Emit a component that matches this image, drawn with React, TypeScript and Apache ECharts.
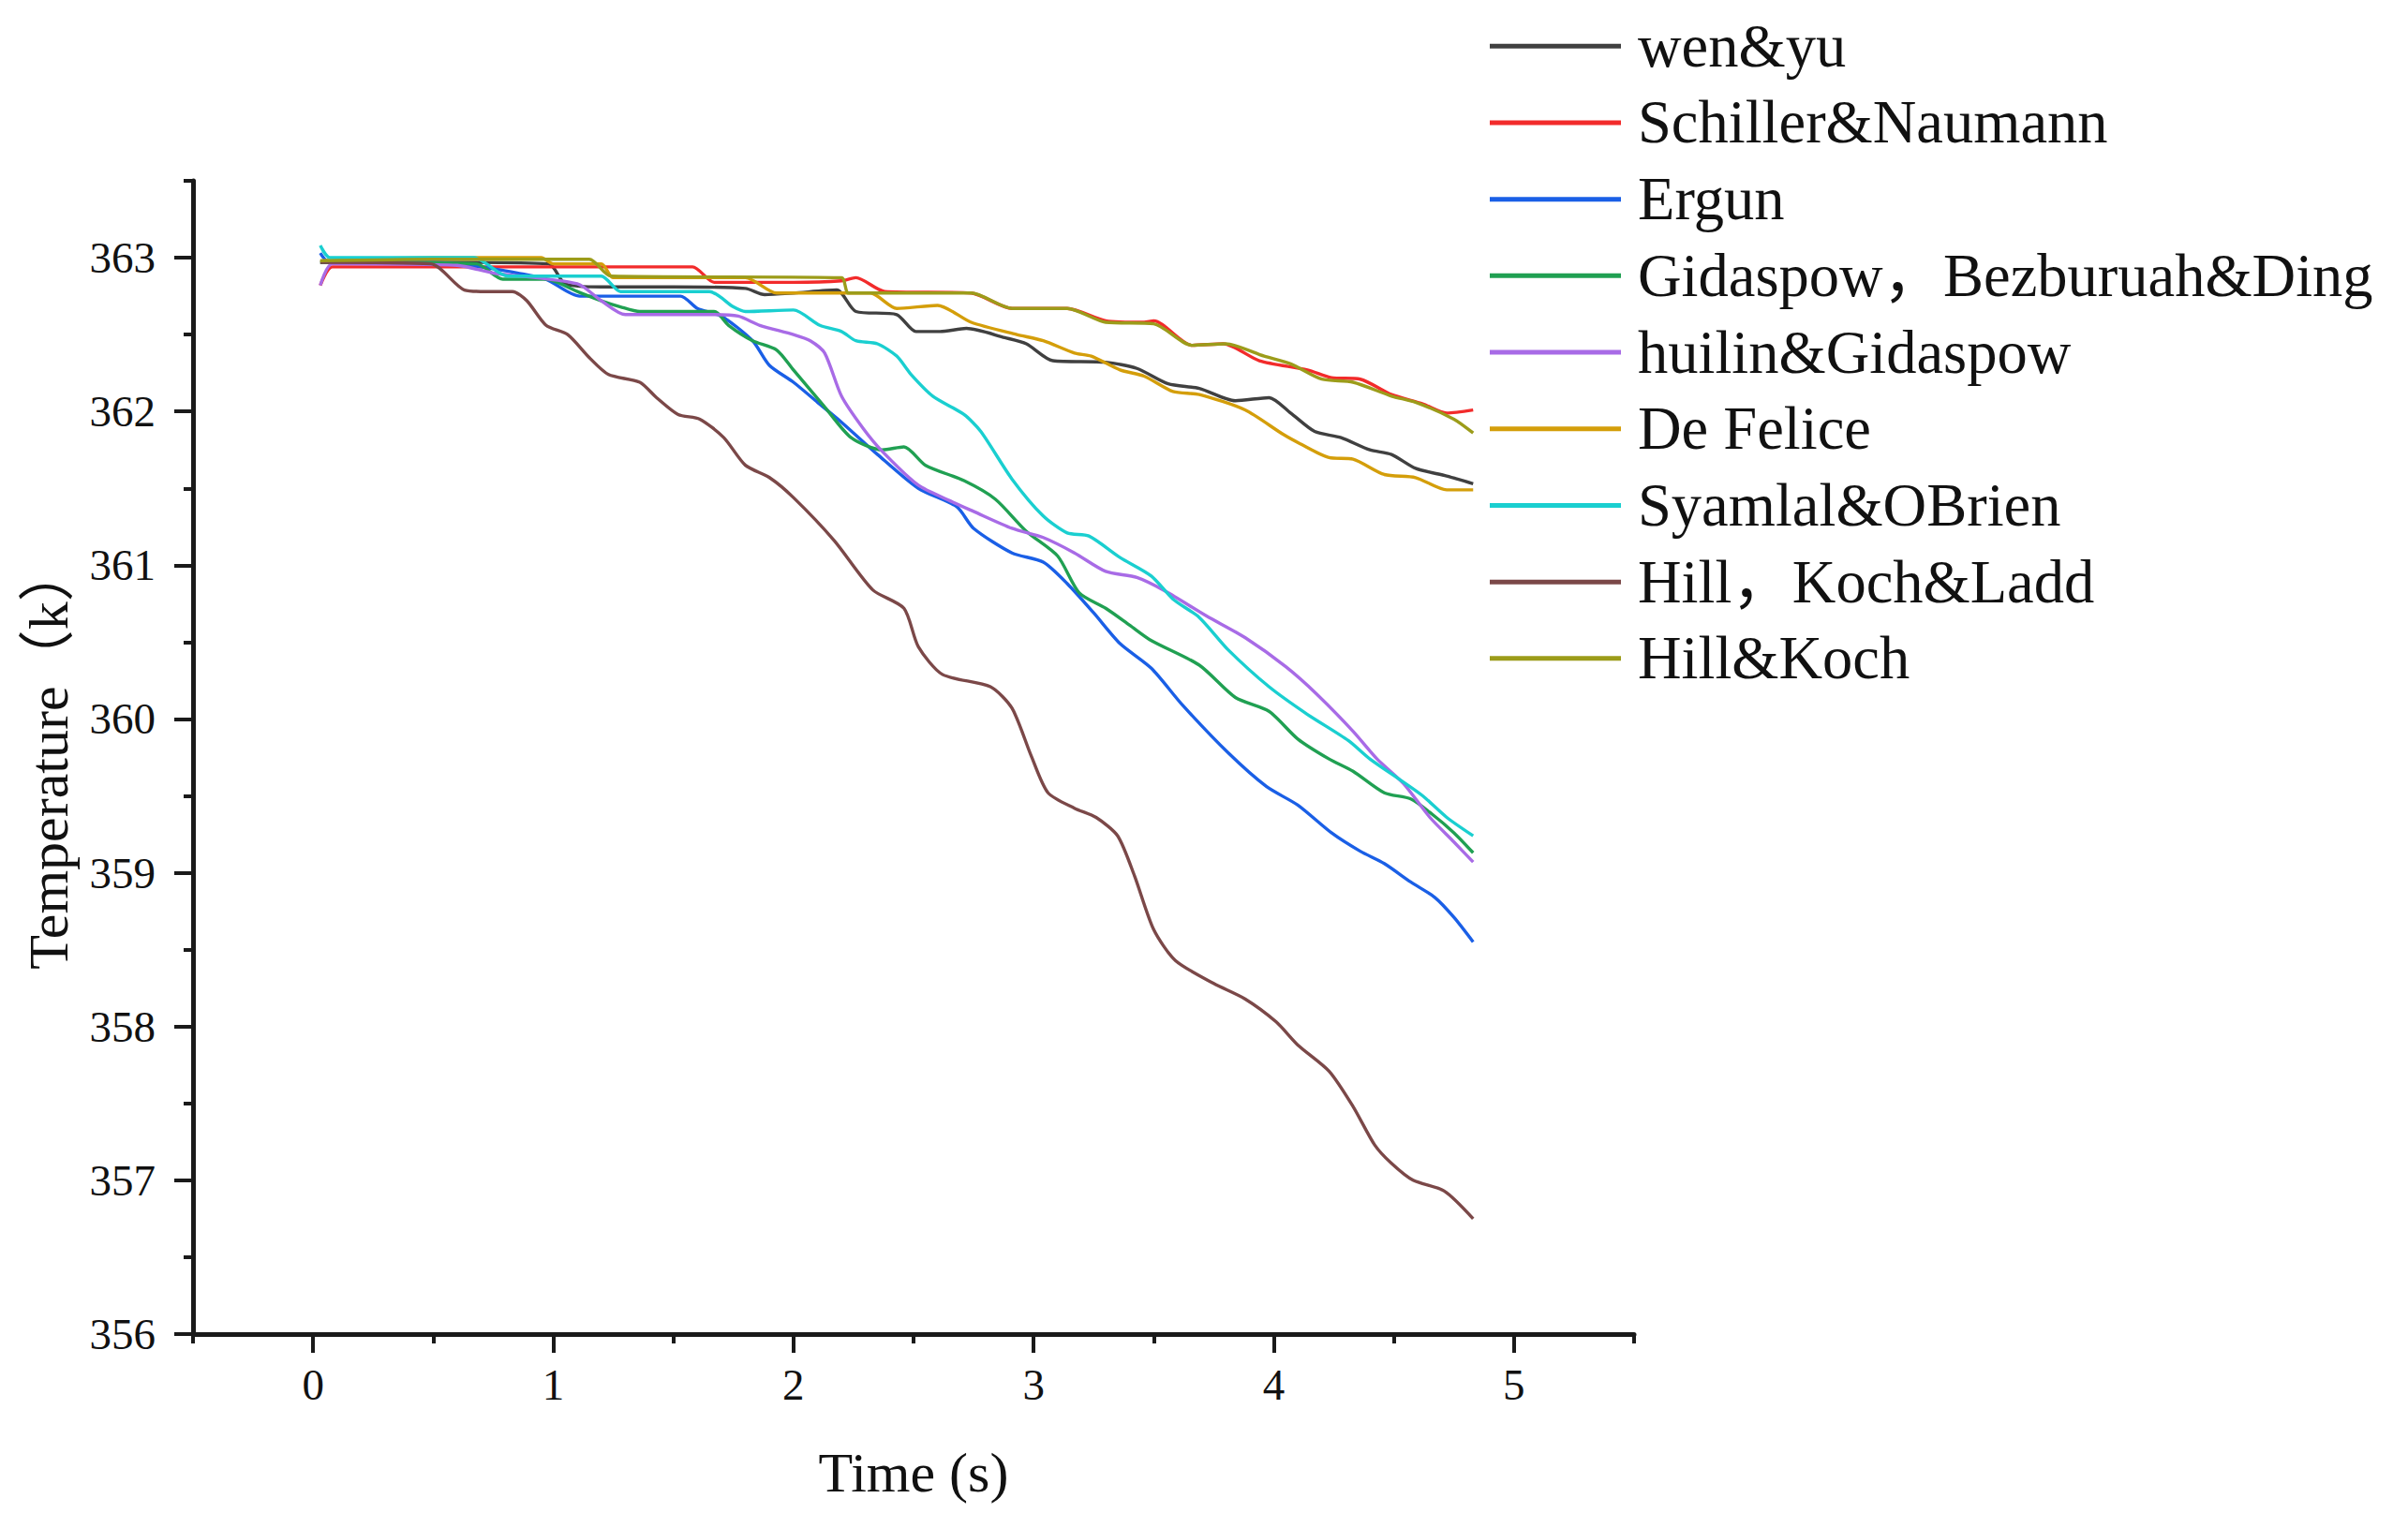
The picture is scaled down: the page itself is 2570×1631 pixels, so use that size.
import React, { useEffect, useRef } from "react";
import * as echarts from "echarts";

const seriesNames = [
  "wen&yu",
  "Schiller&Naumann",
  "Ergun",
  "Gidaspow，Bezburuah&Ding",
  "huilin&Gidaspow",
  "De Felice",
  "Syamlal&OBrien",
  "Hill，Koch&Ladd",
  "Hill&Koch",
];

const seriesColors = [
  "#404040",
  "#F22B2B",
  "#1A5FE6",
  "#20A052",
  "#A86BE6",
  "#D49E0A",
  "#1ACFD0",
  "#7B4848",
  "#9C9C1A",
];

const xTickValues = [0, 1, 2, 3, 4, 5];
const xMinorTickValues = [-0.5, 0.5, 1.5, 2.5, 3.5, 4.5, 5.5];
const yTickValues = [356, 357, 358, 359, 360, 361, 362, 363];
const yMinorTickValues = [356.5, 357.5, 358.5, 359.5, 360.5, 361.5, 362.5, 363.5];

const wenYu = [
  [0.03, 362.97], [0.5, 362.97], [0.98, 362.96], [1.05, 362.83], [1.2, 362.81], [1.5, 362.81],
  [1.8, 362.8], [1.88, 362.76], [2.0, 362.77], [2.18, 362.79], [2.26, 362.65], [2.43, 362.63],
  [2.51, 362.52], [2.61, 362.52], [2.72, 362.54], [2.88, 362.48], [2.97, 362.44], [3.08, 362.33],
  [3.3, 362.32], [3.43, 362.28], [3.56, 362.18], [3.69, 362.15], [3.84, 362.07], [3.98, 362.09],
  [4.07, 361.99], [4.17, 361.87], [4.28, 361.83], [4.4, 361.75], [4.49, 361.72], [4.59, 361.63],
  [4.72, 361.58], [4.83, 361.53],
];

const schiller = [
  [0.03, 362.82], [0.08, 362.94], [0.5, 362.94], [1.0, 362.94], [1.58, 362.94], [1.67, 362.84],
  [2.0, 362.84], [2.2, 362.85], [2.26, 362.87], [2.38, 362.78], [2.74, 362.77], [2.91, 362.67],
  [3.14, 362.67], [3.3, 362.59], [3.46, 362.58], [3.5, 362.59], [3.66, 362.43], [3.79, 362.44],
  [3.94, 362.33], [4.14, 362.27], [4.24, 362.22], [4.36, 362.21], [4.49, 362.11], [4.62, 362.05],
  [4.72, 361.99], [4.83, 362.01],
];

const ergun = [
  [0.03, 363.03], [0.06, 362.98], [0.5, 362.97], [0.7, 362.94], [0.85, 362.9], [0.97, 362.86],
  [1.11, 362.75], [1.53, 362.75], [1.6, 362.67], [1.7, 362.62], [1.83, 362.46], [1.9, 362.3],
  [2.0, 362.19], [2.1, 362.06], [2.2, 361.93], [2.35, 361.72], [2.52, 361.5], [2.68, 361.38],
  [2.75, 361.24], [2.91, 361.08], [3.04, 361.02], [3.14, 360.88], [3.25, 360.69], [3.36, 360.49],
  [3.49, 360.33], [3.62, 360.09], [3.81, 359.78], [3.97, 359.56], [4.1, 359.44], [4.24, 359.26],
  [4.36, 359.14], [4.46, 359.06], [4.57, 358.94], [4.67, 358.84], [4.75, 358.71], [4.83, 358.55],
];

const gidaspow = [
  [0.03, 362.97], [0.68, 362.96], [0.79, 362.86], [0.97, 362.86], [1.1, 362.78], [1.2, 362.72],
  [1.28, 362.68], [1.36, 362.65], [1.67, 362.65], [1.73, 362.56], [1.83, 362.46], [1.93, 362.4],
  [2.0, 362.27], [2.13, 362.03], [2.24, 361.83], [2.37, 361.75], [2.46, 361.77], [2.55, 361.65],
  [2.71, 361.55], [2.84, 361.43], [2.97, 361.22], [3.1, 361.06], [3.19, 360.82], [3.3, 360.72],
  [3.4, 360.61], [3.49, 360.51], [3.69, 360.35], [3.84, 360.14], [3.98, 360.05], [4.1, 359.87],
  [4.23, 359.74], [4.33, 359.66], [4.46, 359.52], [4.57, 359.48], [4.66, 359.38], [4.75, 359.26],
  [4.83, 359.13],
];

const huilin = [
  [0.03, 362.82], [0.08, 362.96], [0.6, 362.95], [0.75, 362.9], [1.1, 362.83], [1.2, 362.72],
  [1.3, 362.63], [1.67, 362.63], [1.77, 362.62], [1.86, 362.56], [2.0, 362.5], [2.07, 362.46],
  [2.13, 362.38], [2.2, 362.1], [2.29, 361.89], [2.37, 361.74], [2.52, 361.52], [2.65, 361.42],
  [2.75, 361.35], [2.91, 361.24], [3.04, 361.18], [3.17, 361.08], [3.3, 360.96], [3.43, 360.92],
  [3.55, 360.83], [3.72, 360.67], [3.88, 360.53], [4.05, 360.34], [4.18, 360.16], [4.33, 359.92],
  [4.43, 359.74], [4.54, 359.58], [4.65, 359.36], [4.75, 359.2], [4.83, 359.07],
];

const deFelice = [
  [0.03, 362.98], [0.5, 363.0], [0.95, 363.0], [1.0, 362.96], [1.2, 362.96], [1.25, 362.87],
  [1.8, 362.87], [1.93, 362.77], [2.32, 362.77], [2.43, 362.67], [2.6, 362.69], [2.74, 362.58],
  [2.93, 362.5], [3.04, 362.46], [3.17, 362.38], [3.24, 362.36], [3.36, 362.27], [3.46, 362.23],
  [3.58, 362.13], [3.69, 362.11], [3.88, 362.01], [4.04, 361.85], [4.11, 361.79], [4.23, 361.7],
  [4.33, 361.69], [4.46, 361.59], [4.59, 361.57], [4.72, 361.49], [4.83, 361.49],
];

const syamlal = [
  [0.03, 363.08], [0.07, 363.0], [0.67, 363.0], [0.81, 362.88], [1.2, 362.88], [1.28, 362.78],
  [1.65, 362.78], [1.75, 362.68], [1.8, 362.65], [2.0, 362.66], [2.11, 362.56], [2.2, 362.52],
  [2.26, 362.46], [2.35, 362.44], [2.43, 362.36], [2.49, 362.24], [2.58, 362.1], [2.71, 361.98],
  [2.78, 361.87], [2.91, 361.56], [3.04, 361.32], [3.14, 361.21], [3.23, 361.19], [3.36, 361.05],
  [3.49, 360.93], [3.58, 360.78], [3.69, 360.66], [3.81, 360.45], [3.98, 360.21], [4.14, 360.03],
  [4.31, 359.86], [4.4, 359.74], [4.53, 359.6], [4.62, 359.5], [4.72, 359.36], [4.83, 359.24],
];

const hillKochLadd = [
  [0.03, 362.97], [0.49, 362.96], [0.63, 362.79], [0.72, 362.78], [0.83, 362.78], [0.89, 362.72],
  [0.97, 362.56], [1.06, 362.5], [1.15, 362.35], [1.23, 362.24], [1.36, 362.19], [1.43, 362.09],
  [1.52, 361.98], [1.61, 361.95], [1.71, 361.83], [1.8, 361.65], [1.9, 361.57], [2.0, 361.44],
  [2.17, 361.16], [2.33, 360.84], [2.46, 360.72], [2.52, 360.47], [2.62, 360.29], [2.82, 360.21],
  [2.91, 360.07], [2.99, 359.76], [3.06, 359.52], [3.17, 359.42], [3.26, 359.36], [3.35, 359.24],
  [3.42, 358.98], [3.5, 358.63], [3.59, 358.43], [3.75, 358.28], [3.88, 358.18], [4.01, 358.03],
  [4.1, 357.88], [4.23, 357.71], [4.33, 357.48], [4.42, 357.23], [4.49, 357.11], [4.58, 357.0],
  [4.71, 356.93], [4.83, 356.75],
];

const hillKoch = [
  [0.03, 362.98], [0.5, 362.99], [1.15, 362.99], [1.24, 362.88], [2.2, 362.87], [2.23, 362.77],
  [2.74, 362.77], [2.91, 362.67], [3.14, 362.67], [3.3, 362.58], [3.5, 362.57], [3.66, 362.43],
  [3.8, 362.44], [3.96, 362.36], [4.07, 362.31], [4.2, 362.21], [4.33, 362.19], [4.49, 362.1],
  [4.59, 362.06], [4.75, 361.95], [4.83, 361.86],
];

const seriesData = [wenYu, schiller, ergun, gidaspow, huilin, deFelice, syamlal, hillKochLadd, hillKoch];

const FONT = "'Liberation Serif', 'Noto Sans CJK SC', serif";

export default function App() {
  const ref = useRef<HTMLDivElement>(null);

  useEffect(() => {
    if (!ref.current) return;
    const chart = echarts.init(ref.current, undefined, { renderer: "svg" });
    const axisColor = "#1a1a1a";
    const option = {
      animation: false,
      backgroundColor: "#ffffff",
      textStyle: { fontFamily: FONT },
      grid: { left: 206, top: 193, width: 1538, height: 1231, containLabel: false },
      legend: {
        orient: "vertical",
        left: 1585,
        top: 12,
        icon: "rect",
        itemWidth: 140,
        itemHeight: 5,
        itemGap: 17.2,
        data: seriesNames,
        textStyle: {
          fontFamily: FONT,
          fontSize: 64.5,
          lineHeight: 64,
          color: "#111111",
          padding: [0, 0, 0, 13],
        },
      },
      xAxis: [
        {
          type: "value",
          min: -0.5,
          max: 5.5,
          position: "bottom",
          name: "Time (s)",
          nameLocation: "middle",
          nameGap: 118,
          nameTextStyle: { fontFamily: FONT, fontSize: 60, color: "#111111" },
          axisLine: { show: true, onZero: false, lineStyle: { color: axisColor, width: 5 } },
          axisTick: { show: true, inside: false, length: 20, customValues: xTickValues, lineStyle: { color: axisColor, width: 4 } },
          axisLabel: { show: true, customValues: xTickValues, margin: 30, fontFamily: FONT, fontSize: 47, color: "#111111" },
          splitLine: { show: false },
        },
        {
          type: "value",
          min: -0.5,
          max: 5.5,
          position: "bottom",
          axisLine: { show: false, onZero: false },
          axisTick: { show: true, inside: false, length: 10, customValues: xMinorTickValues, lineStyle: { color: axisColor, width: 4 } },
          axisLabel: { show: false },
          splitLine: { show: false },
        },
      ],
      yAxis: [
        {
          type: "value",
          min: 356,
          max: 363.5,
          position: "left",
          name: "Temperature（k）",
          nameLocation: "middle",
          nameGap: 124,
          nameRotate: 90,
          nameTextStyle: { fontFamily: FONT, fontSize: 60, color: "#111111" },
          axisLine: { show: true, onZero: false, lineStyle: { color: axisColor, width: 5 } },
          axisTick: { show: true, inside: false, length: 20, customValues: yTickValues, lineStyle: { color: axisColor, width: 4 } },
          axisLabel: { show: true, customValues: yTickValues, margin: 40, fontFamily: FONT, fontSize: 47, color: "#111111" },
          splitLine: { show: false },
        },
        {
          type: "value",
          min: 356,
          max: 363.5,
          position: "left",
          axisLine: { show: false, onZero: false },
          axisTick: { show: true, inside: false, length: 10, customValues: yMinorTickValues, lineStyle: { color: axisColor, width: 4 } },
          axisLabel: { show: false },
          splitLine: { show: false },
        },
      ],
      series: seriesNames.map((name, i) => ({
        name,
        type: "line",
        xAxisIndex: 0,
        yAxisIndex: 0,
        data: seriesData[i],
        symbol: "none",
        showSymbol: false,
        smooth: 0.25,
        color: seriesColors[i],
        lineStyle: { color: seriesColors[i], width: 3.4 },
        itemStyle: { color: seriesColors[i] },
      })),
    };
    chart.setOption(option);
    return () => {
      chart.dispose();
    };
  }, []);

  return (
    <div
      ref={ref}
      style={{ position: "fixed", left: 0, top: 0, width: 2570, height: 1631, background: "#fff" }}
    />
  );
}
